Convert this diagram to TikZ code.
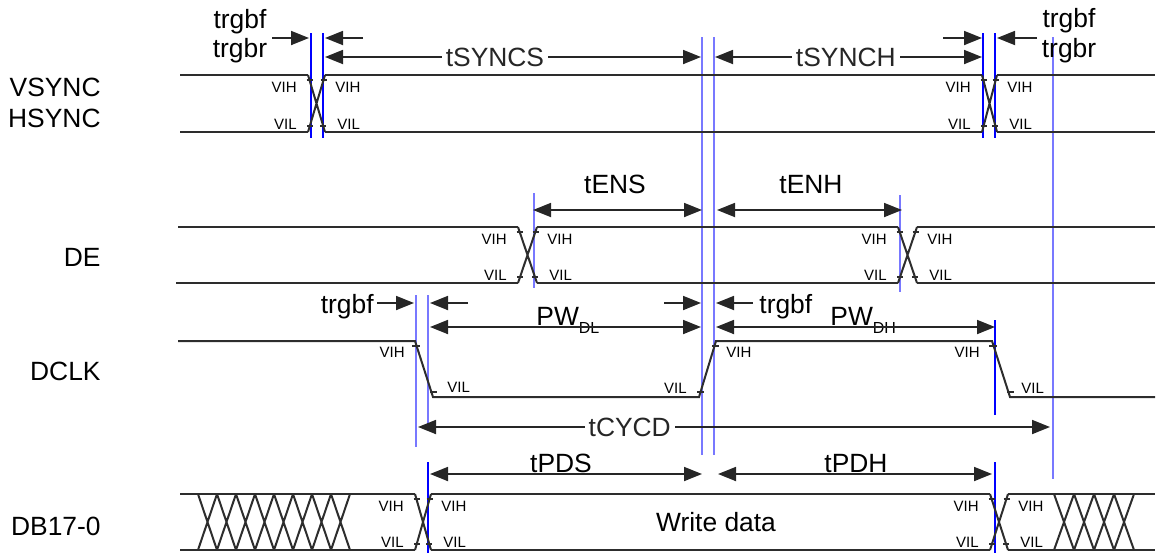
\documentclass[tikz,border=0pt]{standalone}
\usepackage{fontspec}
\setmainfont{Liberation Sans}
\usepackage{xcolor}
\usepackage{tikz}
\usetikzlibrary{arrows.meta, calc}
\definecolor{edgeblue}{RGB}{0, 0, 255}
\definecolor{guideblue}{RGB}{120, 120, 255}
\definecolor{wiregray}{RGB}{45, 45, 45}

\begin{document}
\begin{tikzpicture}[
  x=0.5pt, y=-0.5pt,
  every node/.style={font=\fontsize{13.2}{15}\selectfont, inner sep=1pt},
  wire/.style={wiregray, line width=1pt},
  tick/.style={wiregray, line width=0.6pt},
  level/.style={font=\fontsize{7.5}{8}\selectfont, inner sep=0pt},
  edgeline/.style={edgeblue, line width=1.2pt},
  guideline/.style={guideblue, line width=1.2pt},
  dim/.style={black!85, line width=0.9pt, {Triangle[length=9pt,width=7pt]}-{Triangle[length=9pt,width=7pt]}},
  push/.style={black!85, line width=0.9pt, -{Triangle[length=9pt,width=7pt]}},
  gap/.style={fill=white, inner xsep=2pt}
]
  \useasboundingbox (0,0) rectangle (1159,553);

  % Signal names
  \node[anchor=base east] (vsync) at (103,96) {VSYNC};
  \node[anchor=base east] (hsync) at (103,127) {HSYNC};
  \node[anchor=base east] (de) at (103,266) {DE};
  \node[anchor=base east] (dclk) at (103,380) {DCLK};
  \node[anchor=base east] (db) at (103,535) {DB17-0};

  % Reference edges
  \foreach \x/\ya/\yb in {311/33/138, 323/33/138, 983/33/138, 995/33/138, 995/320/415, 428/462/553, 995/462/553}
    \draw[edgeline] (\x,\ya) -- (\x,\yb);
  \foreach \x/\ya/\yb in {702/37/455, 714/37/455, 1053/37/479, 534/193/288, 900/195/292, 416/295/447, 428/295/430}
    \draw[guideline] (\x,\ya) -- (\x,\yb);

  % VSYNC / HSYNC
  \draw[wire] (180,75) -- (308,75) (325,75) -- (982,75) (997,75) -- (1155,75);
  \draw[wire] (180,132) -- (308,132) (325,132) -- (982,132) (997,132) -- (1155,132);

  % DE
  \draw[wire] (178,227) -- (518,227) (537,227) -- (898,227) (917,227) -- (1155,227);
  \draw[wire] (176,283) -- (518,283) (537,283) -- (898,283) (917,283) -- (1155,283);

  % DB17-0
  \draw[wire] (180,494) -- (415,494) (431,494) -- (990,494) (1008,494) -- (1155,494);
  \draw[wire] (180,550) -- (415,550) (431,550) -- (990,550) (1008,550) -- (1155,550);
  \foreach \i in {0,...,7}
    \draw[wire] (198+19*\i,494) -- (217+19*\i,550) (198+19*\i,550) -- (217+19*\i,494);
  \foreach \i in {0,...,3}
    \draw[wire] (1054+20*\i,494) -- (1074+20*\i,550) (1054+20*\i,550) -- (1074+20*\i,494);
  \node (wdata) at (716,522) {Write data};

  % Crossings with VIH / VIL ticks
  \foreach \xa/\xb/\yt/\yb in {308/325/75/132, 982/997/75/132, 518/537/227/283, 898/917/227/283, 415/431/494/550, 990/1008/494/550} {
    \draw[wire] (\xa,\yt) -- (\xb,\yb) (\xa,\yb) -- (\xb,\yt);
    \draw[tick] (\xa-1.5,\yt+5) -- +(6,0) (\xb-4.5,\yt+5) -- +(6,0)
                (\xa-1,\yb-6) -- +(6,0) (\xb-5,\yb-6) -- +(6,0);
    \node[level, anchor=east] (vihl\xa) at (\xa-11,\yt+12) {VIH};
    \node[level, anchor=west] (vihr\xa) at (\xb+10,\yt+12) {VIH};
    \node[level, anchor=east] (vill\xa) at (\xa-11,\yb-8) {VIL};
    \node[level, anchor=west] (vilr\xa) at (\xb+12,\yb-8) {VIL};
  }

  % DCLK
  \draw[wire] (178,341) -- (415,341) -- (433,397) -- (699,397) -- (716,341)
              -- (992,341) -- (1010,397) -- (1155,397);
  \draw[tick] (412,346) -- +(8,0) (430,392) -- +(7,0)
              (697,392) -- +(7,0) (712,346) -- +(7,0)
              (989,346) -- +(8,0) (1007,392) -- +(7,0);
  \node[level, anchor=east] (vih1) at (405,352) {VIH};
  \node[level, anchor=west] (vil1) at (447,387) {VIL};
  \node[level, anchor=east] (vil2) at (687,388) {VIL};
  \node[level, anchor=west] (vih2) at (726,352) {VIH};
  \node[level, anchor=east] (vih3) at (980,352) {VIH};
  \node[level, anchor=west] (vil3) at (1021,388) {VIL};

  % Sync timing
  \node[anchor=base] (trgbfa) at (240,28) {trgbf};
  \node[anchor=base] (trgbra) at (240,57) {trgbr};
  \draw[push] (272,38) -- (309,38);
  \draw[push] (363,38) -- (325,38);
  \draw[dim] (325,57) -- (701,57) node[gap, pos=0.452] (tsyncs) {tSYNCS};
  \draw[dim] (715,57) -- (982,57) node[gap, pos=0.49] (tsynch) {tSYNCH};
  \draw[push] (943,38) -- (982,38);
  \draw[push] (1037,38) -- (997,38);
  \node[anchor=base] (trgbfb) at (1069,27) {trgbf};
  \node[anchor=base] (trgbrb) at (1069,57) {trgbr};

  % Enable timing
  \draw[dim] (533,210) -- (702,210);
  \node[anchor=base] (tens) at (615,193) {tENS};
  \draw[dim] (717,210) -- (902,210);
  \node[anchor=base] (tenh) at (811,193) {tENH};

  % Clock timing
  \node[anchor=base east] (trgbfc) at (376,313) {trgbf};
  \draw[push] (377,303) -- (414,303);
  \draw[push] (468,303) -- (430,303);
  \draw[push] (664,303) -- (701,303);
  \draw[push] (753,303) -- (716,303);
  \node[anchor=base west] (trgbfd) at (757,313) {trgbf};
  \node[anchor=base west] (pwdl) at (534,325) {PW\raisebox{-4pt}{\fontsize{8}{8}\selectfont DL}};
  \draw[dim] (430,327) -- (701,327);
  \node[anchor=base west] (pwdh) at (828,325) {PW\raisebox{-4pt}{\fontsize{8}{8}\selectfont DH}};
  \draw[dim] (716,327) -- (995,327);
  \draw[dim] (418,427) -- (1050,427) node[gap, pos=0.335] (tcycd) {tCYCD};

  % Data timing
  \draw[dim] (430,474) -- (702,474);
  \node[anchor=base] (tpds) at (561,472) {tPDS};
  \draw[dim] (718,474) -- (992,474);
  \node[anchor=base] (tpdh) at (856,472) {tPDH};
\end{tikzpicture}
\end{document}
